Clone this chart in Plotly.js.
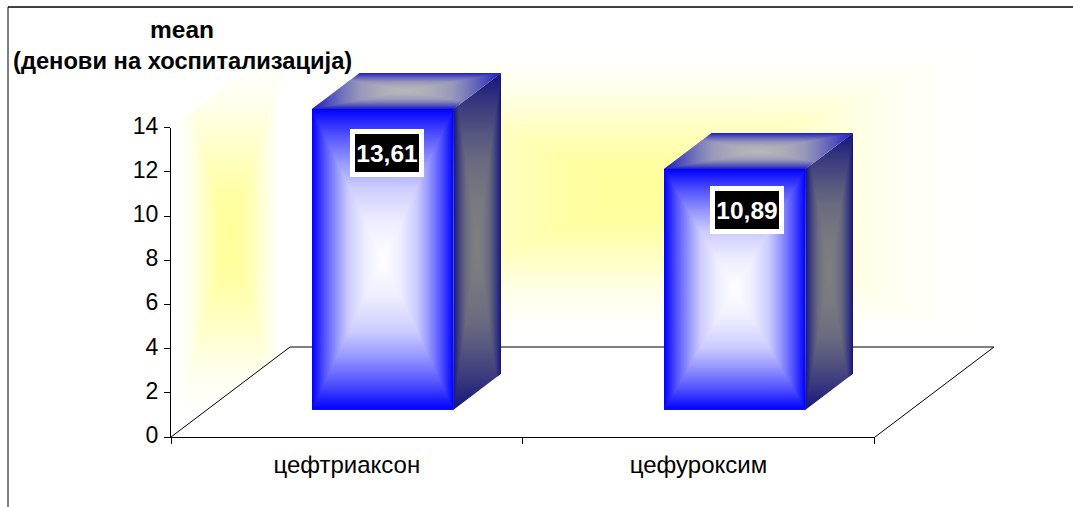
<!DOCTYPE html>
<html>
<head>
<meta charset="utf-8">
<script src="https://cdn.plot.ly/plotly-3.0.0.min.js"></script>
<style>html,body{margin:0;padding:0;background:#fff}#chart{width:1073px;height:507px}</style>
</head>
<body>
<div id="chart"></div>
<script>
// Mean length of hospital stay per antibiotic
const categories = ['цефтриаксон', 'цефуроксим'];
const meanDays = [13.61, 10.89];
const yTicks = [0, 2, 4, 6, 8, 10, 12, 14];

const W = 1073, H = 507;
const FONT = '"Liberation Sans", Arial, sans-serif';

// Plot frame in page pixels and the chart units derived from it
const AX_LEFT = 171, AX_RIGHT = 875, AX_BOTTOM = 437, AX_TOP = 127.6;
const UX = (AX_RIGHT - AX_LEFT) / categories.length;   // px per category
const UY = (AX_BOTTOM - AX_TOP) / 14;                  // px per day
const xOf = px => (px - AX_LEFT) / UX - 0.5;
const yOf = px => (AX_BOTTOM - px) / UY;

// Oblique projection of the floor and of the bar depth, in chart units
const FLOOR_DX = 119 / UX, FLOOR_DY = 90 / UY;
const BAR_SHIFT = 35.75 / UX, BAR_WIDTH = 141.5 / UX;
const BAR_BASE = 27.3 / UY;
const DEPTH_DX = 47.5 / UX, DEPTH_DY = 36 / UY;

// Ramp shapes, as [position from edge to centre, share of the centre colour]
const BAR_RAMP = [[0, 0], [0.18, 0.33], [0.36, 0.6], [0.52, 0.8], [0.75, 0.93], [1, 1]];
const GLOW_RAMP = [[0, 0], [0.12, 0.01], [0.3, 0.15], [0.4, 0.28], [0.6, 0.62], [0.8, 0.9], [1, 1]];

function hexRgb(h) {
  return [1, 3, 5].map(i => parseInt(h.slice(i, i + 2), 16));
}
function symmetricScale(edge, centre, ramp) {
  const a = hexRgb(edge), b = hexRgb(centre);
  const colour = s => 'rgb(' + a.map((v, i) => Math.round(v + (b[i] - v) * s)).join(',') + ')';
  const left = ramp.map(r => [r[0] / 2, colour(r[1])]);
  const right = ramp.slice(0, -1).reverse().map(r => [1 - r[0] / 2, colour(r[1])]);
  return left.concat(right);
}

// Keeps the part of a convex polygon that lies inside a convex clip polygon
function clipConvex(subject, clip) {
  let area = 0;
  clip.forEach((p, i) => { const q = clip[(i + 1) % clip.length]; area += p[0] * q[1] - q[0] * p[1]; });
  const sign = area >= 0 ? 1 : -1;
  let out = subject;
  clip.forEach((a, i) => {
    const b = clip[(i + 1) % clip.length];
    const side = p => sign * ((b[0] - a[0]) * (p[1] - a[1]) - (b[1] - a[1]) * (p[0] - a[0]));
    const next = [];
    out.forEach((p, j) => {
      const q = out[(j + 1) % out.length];
      const sp = side(p), sq = side(q);
      if (sp >= 0) next.push(p);
      if ((sp >= 0) !== (sq >= 0)) {
        const t = sp / (sp - sq);
        next.push([p[0] + t * (q[0] - p[0]), p[1] + t * (q[1] - p[1])]);
      }
    });
    out = next;
  });
  return out;
}

function polyXY(polys) {
  const x = [], y = [];
  polys.forEach((poly, i) => {
    if (i) { x.push(null); y.push(null); }
    poly.concat([poly[0]]).forEach(p => { x.push(p[0]); y.push(p[1]); });
  });
  return { x, y };
}

// A face shaded from its centre outward: a vertical ramp over the whole
// polygon, with the left and right mitred wedges on top in a horizontal ramp.
function centreGradientFace(poly, edge, centre, ramp, xa, ya) {
  const xs = poly.map(p => p[0]), ys = poly.map(p => p[1]);
  const x0 = Math.min(...xs), x1 = Math.max(...xs);
  const y0 = Math.min(...ys), y1 = Math.max(...ys);
  const cx = (x0 + x1) / 2, cy = (y0 + y1) / 2;
  const scale = symmetricScale(edge, centre, ramp);
  const wedges = [
    [[x0, y0], [x0, y1], [cx, cy]],
    [[x1, y0], [x1, y1], [cx, cy]]
  ].map(w => clipConvex(w, poly)).filter(w => w.length > 2);
  const base = { type: 'scatter', mode: 'lines', fill: 'toself', line: { width: 0 },
                 xaxis: xa, yaxis: ya, hoverinfo: 'skip', showlegend: false };
  return [
    Object.assign({}, base, polyXY([poly]), {
      fillgradient: { type: 'vertical', start: y0, stop: y1, colorscale: scale } }),
    Object.assign({}, base, polyXY(wedges), {
      fillgradient: { type: 'horizontal', start: x0, stop: x1, colorscale: scale } })
  ];
}

const XL = xOf(AX_LEFT), XR = xOf(AX_RIGHT);
const wallTop = 14 + FLOOR_DY;
const glowEdge = '#ffffff', glowCentre = '#ffff99';

// Side and back walls, then the floor outline
const wallTraces = [].concat(
  centreGradientFace(
    [[XL, 0], [XL + FLOOR_DX, FLOOR_DY], [XL + FLOOR_DX, wallTop], [XL, 14]],
    glowEdge, glowCentre, GLOW_RAMP, 'x', 'y'),
  centreGradientFace(
    [[XL + FLOOR_DX, FLOOR_DY], [XR + FLOOR_DX, FLOOR_DY], [XR + FLOOR_DX, wallTop], [XL + FLOOR_DX, wallTop]],
    glowEdge, glowCentre, GLOW_RAMP, 'x', 'y'),
  [{
    type: 'scatter', mode: 'lines', xaxis: 'x', yaxis: 'y', hoverinfo: 'skip', showlegend: false,
    x: [XL, XL + FLOOR_DX, XR + FLOOR_DX, XR],
    y: [0, FLOOR_DY, FLOOR_DY, 0],
    line: { color: '#000000', width: 1 }
  }]
);

// Front faces come from a bar trace; depth faces and shading follow the same values
const barCentres = categories.map((_, i) => i + BAR_SHIFT);
const barTrace = {
  type: 'bar', xaxis: 'x2', yaxis: 'y2', x: barCentres, y: meanDays, base: BAR_BASE,
  width: BAR_WIDTH, marker: { color: '#0000ff', line: { width: 0 } },
  hoverinfo: 'skip', showlegend: false
};

const faceTraces = [];
meanDays.forEach((v, i) => {
  const l = barCentres[i] - BAR_WIDTH / 2, r = barCentres[i] + BAR_WIDTH / 2;
  const b = BAR_BASE, t = BAR_BASE + v;
  faceTraces.push(...centreGradientFace(
    [[r, b], [r + DEPTH_DX, b + DEPTH_DY], [r + DEPTH_DX, t + DEPTH_DY], [r, t]],
    '#14147e', '#808080', BAR_RAMP, 'x2', 'y2'));
  faceTraces.push(...centreGradientFace(
    [[l, t], [r, t], [r + DEPTH_DX, t + DEPTH_DY], [l + DEPTH_DX, t + DEPTH_DY]],
    '#1c1cc0', '#b8b8b8', BAR_RAMP, 'x2', 'y2'));
  faceTraces.push(...centreGradientFace(
    [[l, b], [r, b], [r, t], [l, t]],
    '#0000ff', '#ffffff', BAR_RAMP, 'x2', 'y2'));
});

// Carries the labelled category and value axes
const axisTrace = {
  type: 'scatter', mode: 'none', xaxis: 'x3', yaxis: 'y3',
  x: categories, y: meanDays, hoverinfo: 'skip', showlegend: false
};

const hiddenRangeX = [xOf(0), xOf(W)];
const hiddenRangeY = [yOf(H), yOf(0)];
const hiddenAxis = (range, anchor) => ({
  domain: [0, 1], range, anchor, visible: false, fixedrange: true,
  showgrid: false, zeroline: false
});

// Value labels sit a little below each bar's top edge, in page pixels
const labelDx = [39.5, 47.5];
const labelDy = [44, 40.5];
const valueLabels = meanDays.map((v, i) => ({
  xref: 'x2', yref: 'y2', xanchor: 'center', yanchor: 'middle', showarrow: false,
  x: i + labelDx[i] / UX,
  y: BAR_BASE + v - labelDy[i] / UY,
  text: v.toFixed(2).replace('.', ','),
  font: { family: FONT, size: 24.5, color: '#ffffff', weight: 700 },
  bgcolor: '#000000', bordercolor: '#ffffff', borderwidth: 5, borderpad: 0,
  width: 64, height: 38
}));

const layout = {
  width: W, height: H,
  margin: { l: 0, r: 0, t: 0, b: 0, pad: 0 },
  paper_bgcolor: '#ffffff', plot_bgcolor: 'rgba(0,0,0,0)',
  showlegend: false,
  font: { family: FONT, color: '#000000' },
  title: {
    text: '<b>mean</b>',
    font: { family: FONT, size: 24.5, color: '#000000' },
    xref: 'paper', yref: 'paper', x: 182 / W, y: 1 - 29 / H,
    xanchor: 'center', yanchor: 'middle'
  },
  xaxis: hiddenAxis(hiddenRangeX, 'y'),
  yaxis: hiddenAxis(hiddenRangeY, 'x'),
  xaxis2: hiddenAxis(hiddenRangeX, 'y2'),
  yaxis2: hiddenAxis(hiddenRangeY, 'x2'),
  xaxis3: {
    type: 'category', categoryorder: 'array', categoryarray: categories,
    domain: [AX_LEFT / W, AX_RIGHT / W], anchor: 'y3', range: [-0.5, categories.length - 0.5 + 0.002],
    tickson: 'boundaries', ticks: 'outside', ticklen: 6, tickwidth: 1, tickcolor: '#000000',
    showline: true, linecolor: '#000000', linewidth: 1, showgrid: false, zeroline: false,
    ticklabelstandoff: 6,
    fixedrange: true, tickfont: { family: FONT, size: 24, color: '#000000' }
  },
  yaxis3: {
    domain: [1 - AX_BOTTOM / H, 1 - AX_TOP / H], anchor: 'x3', range: [0, 14],
    tickmode: 'array', tickvals: yTicks, ticktext: yTicks.map(String),
    ticks: 'outside', ticklen: 6, tickwidth: 1, tickcolor: '#000000',
    showline: true, linecolor: '#000000', linewidth: 1, showgrid: false, zeroline: false,
    ticklabelstandoff: 1, ticklabelshift: -2,
    fixedrange: true, tickfont: { family: FONT, size: 23, color: '#000000' }
  },
  annotations: [{
    xref: 'paper', yref: 'paper', x: 182 / W, y: 1 - 61 / H,
    xanchor: 'center', yanchor: 'middle', showarrow: false,
    text: '<b>(денови на хоспитализација)</b>',
    font: { family: FONT, size: 23.7, color: '#000000' }
  }].concat(valueLabels),
  shapes: [
    { type: 'line', xref: 'paper', yref: 'paper', x0: 8 / W, x1: 1, y0: 1 - 7 / H, y1: 1 - 7 / H,
      line: { color: '#000000', width: 1.5 } },
    { type: 'line', xref: 'paper', yref: 'paper', x0: 8 / W, x1: 8 / W, y0: 0, y1: 1 - 7 / H,
      line: { color: '#000000', width: 1 } }
  ]
};

Plotly.newPlot('chart', wallTraces.concat([barTrace], faceTraces, [axisTrace]), layout,
  { displayModeBar: false, staticPlot: true });
</script>
</body>
</html>
